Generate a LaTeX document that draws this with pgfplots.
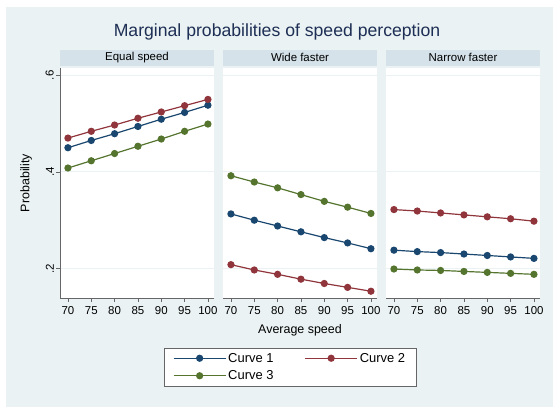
\documentclass[border=0pt]{standalone}
\usepackage{pgfplots}
\pgfplotsset{compat=1.18}
\usepackage{fontspec}
\setmainfont{Liberation Sans}

\definecolor{bgcol}{RGB}{234,242,243}
\definecolor{hdrcol}{RGB}{213,226,233}
\definecolor{navy}{RGB}{26,71,111}
\definecolor{maroon}{RGB}{144,53,59}
\definecolor{forest}{RGB}{85,117,47}
\definecolor{titlecol}{RGB}{30,47,85}

\pgfplotsset{
  panel/.style={
    scale only axis, width=154bp, height=230bp, anchor=south west,
    xmin=68.3, xmax=101.3, ymin=0.139, ymax=0.615,
    xtick={70,75,...,100},
    ytick={0.2,0.4,0.6},
    axis lines*=left,
    axis line style={draw=gray!80!black, line width=0.6pt},
    axis background/.style={fill=white},
    ymajorgrids, grid style={draw=bgcol, line width=0.8pt},
    tick style={draw=gray!80!black, line width=0.6pt},
    tick align=outside, major tick length=4bp,
    xticklabel style={font=\fontsize{11.5}{12}\selectfont, inner sep=1pt, yshift=-3bp},
    /pgf/number format/assume math mode=true,
    every axis plot/.append style={line width=1.2pt, mark=*, mark size=3pt},
    every axis title/.style={at={(0.5,1)}, anchor=south, yshift=2bp, fill=hdrcol,
      minimum width=154bp, minimum height=16bp, inner sep=0pt,
      font=\fontsize{11.5}{12}\selectfont},
  },
  legend image code/.code={%
    \draw[mark repeat=2,mark phase=2,#1] plot coordinates {(0bp,0bp) (26bp,0bp) (52bp,0bp)};},
}

\begin{document}
\begin{tikzpicture}
\useasboundingbox (0bp,0bp) rectangle (553bp,407bp);
\fill[white] (0bp,0bp) rectangle (553bp,407bp);
\fill[bgcol] (6bp,0bp) rectangle (553bp,400bp);
\node[font=\fontsize{17.7}{19}\selectfont, text=titlecol] at (277bp,375bp) {Marginal probabilities of speed perception};

\begin{axis}[panel, at={(60bp,109bp)}, title={Equal speed},
  yticklabels={.2,.4,.6},
  yticklabel style={rotate=90, anchor=south, font=\fontsize{11.5}{12}\selectfont, inner sep=2pt},
  ylabel={Probability}, ylabel style={font=\fontsize{12.5}{14}\selectfont, at={(axis description cs:-0.16,0.5)}},
  legend columns=2,
  legend style={at={(axis description cs:1.494,-0.3)}, anchor=center,
    draw=gray!80!black, line width=0.6pt, fill=white,
    font=\fontsize{13}{15}\selectfont,
    /tikz/every even column/.append style={column sep=29bp},
    row sep=3bp, inner xsep=9bp, inner ysep=3bp},
  legend cell align=left]
\addplot[navy] coordinates {(70,0.450) (75,0.465) (80,0.479) (85,0.494) (90,0.509) (95,0.523) (100,0.538)};
\addplot[maroon] coordinates {(70,0.470) (75,0.484) (80,0.497) (85,0.511) (90,0.524) (95,0.537) (100,0.550)};
\addplot[forest] coordinates {(70,0.408) (75,0.423) (80,0.438) (85,0.453) (90,0.468) (95,0.484) (100,0.499)};
\legend{Curve 1, Curve 2, Curve 3}
\end{axis}

\begin{axis}[panel, at={(223bp,109bp)}, title={Wide faster},
  yticklabels={}, separate axis lines, y axis line style={draw=none}, ytick style={draw=none},
  xlabel={Average speed}, xlabel style={font=\fontsize{12.5}{14}\selectfont, yshift=-6bp}]
\addplot[navy] coordinates {(70,0.313) (75,0.300) (80,0.288) (85,0.276) (90,0.264) (95,0.253) (100,0.241)};
\addplot[maroon] coordinates {(70,0.208) (75,0.197) (80,0.188) (85,0.178) (90,0.169) (95,0.161) (100,0.153)};
\addplot[forest] coordinates {(70,0.392) (75,0.379) (80,0.367) (85,0.353) (90,0.339) (95,0.327) (100,0.314)};
\end{axis}

\begin{axis}[panel, at={(386bp,109bp)}, title={Narrow faster},
  yticklabels={}, separate axis lines, y axis line style={draw=none}, ytick style={draw=none}]
\addplot[navy] coordinates {(70,0.238) (75,0.235) (80,0.233) (85,0.230) (90,0.227) (95,0.224) (100,0.221)};
\addplot[maroon] coordinates {(70,0.322) (75,0.319) (80,0.315) (85,0.311) (90,0.307) (95,0.303) (100,0.298)};
\addplot[forest] coordinates {(70,0.199) (75,0.197) (80,0.196) (85,0.194) (90,0.192) (95,0.190) (100,0.188)};
\end{axis}
\end{tikzpicture}
\end{document}
